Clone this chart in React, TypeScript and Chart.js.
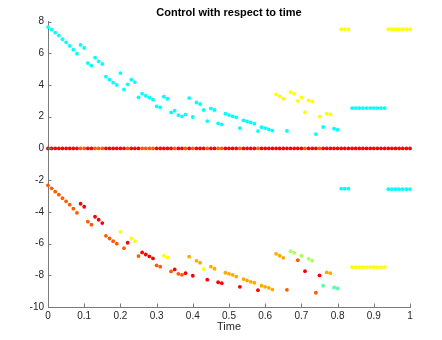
import React, { useEffect, useRef } from "react";
import { Chart, registerables } from "chart.js";

Chart.register(...registerables);

const titleText = "Control with respect to time";
const xLabel = "Time";

const time = [
  0, 0.01, 0.02, 0.03, 0.04, 0.05, 0.06, 0.07, 0.08, 0.09,
  0.1, 0.11, 0.12, 0.13, 0.14, 0.15, 0.16, 0.17, 0.18, 0.19,
  0.2, 0.21, 0.22, 0.23, 0.24, 0.25, 0.26, 0.27, 0.28, 0.29,
  0.3, 0.31, 0.32, 0.33, 0.34, 0.35, 0.36, 0.37, 0.38, 0.39,
  0.4, 0.41, 0.42, 0.43, 0.44, 0.45, 0.46, 0.47, 0.48, 0.49,
  0.5, 0.51, 0.52, 0.53, 0.54, 0.55, 0.56, 0.57, 0.58, 0.59,
  0.6, 0.61, 0.62, 0.63, 0.64, 0.65, 0.66, 0.67, 0.68, 0.69,
  0.7, 0.71, 0.72, 0.73, 0.74, 0.75, 0.76, 0.77, 0.78, 0.79,
  0.8, 0.81, 0.82, 0.83, 0.84, 0.85, 0.86, 0.87, 0.88, 0.89,
  0.9, 0.91, 0.92, 0.93, 0.94, 0.95, 0.96, 0.97, 0.98, 0.99, 1,
];

// control 1 (upper)
const upperValues = [
  7.65, 7.49, 7.3, 7.11, 6.88, 6.69, 6.46, 6.23, 5.97, 6.52,
  6.33, 5.38, 5.22, 5.72, 5.49, 5.32, 4.52, 4.33, 4.14, 4.0,
  4.75, 3.72, 4.04, 4.33, 4.18, 3.22, 3.45, 3.32, 3.2, 3.07,
  2.65, 2.59, 3.26, 3.13, 2.27, 2.38, 2.1, 2.02, 2.13, 3.17,
  1.98, 2.9, 2.8, 2.42, 1.72, 2.52, 2.42, 1.58, 1.51, 2.19,
  2.1, 2.02, 1.96, 1.28, 1.77, 1.7, 1.64, 1.56, 1.09, 1.34,
  1.28, 1.2, 1.12, 3.41, 3.28, 3.13, 1.1, 3.55, 3.45, 2.99,
  3.22, 2.27, 3.03, 2.97, 0.9, 2.0, 1.35, 2.19, 2.15, 1.24,
  1.18, 7.51, 7.51, 7.51, 2.54, 2.54, 2.54, 2.54, 2.54, 2.54,
  2.54, 2.54, 2.54, 2.54, 7.51, 7.51, 7.51, 7.51, 7.51, 7.51, 7.51,
];
// colour level per point: 0 red, 1 orange-red, 2 orange, 3 yellow, 4 light green, 5 aquamarine, 6 cyan
const upperLevels = [
  6, 6, 6, 6, 6, 6, 6, 6, 6, 6,
  6, 6, 6, 6, 6, 6, 6, 6, 6, 6,
  6, 6, 6, 6, 6, 6, 6, 6, 6, 6,
  6, 6, 6, 6, 6, 6, 6, 6, 6, 6,
  6, 6, 6, 6, 6, 6, 6, 6, 6, 6,
  6, 6, 6, 6, 6, 6, 6, 6, 6, 6,
  6, 6, 6, 3, 3, 3, 6, 3, 3, 3,
  3, 3, 3, 3, 6, 3, 6, 3, 3, 6,
  6, 3, 3, 3, 6, 6, 6, 6, 6, 6,
  6, 6, 6, 6, 3, 3, 3, 3, 3, 3, 3,
];

// control 2 (middle)
const middleValues = [
  0, 0, 0, 0, 0, 0, 0, 0, 0, 0,
  0, 0, 0, 0, 0, 0, 0, 0, 0, 0,
  0, 0, 0, 0, 0, 0, 0, 0, 0, 0,
  0, 0, 0, 0, 0, 0, 0, 0, 0, 0,
  0, 0, 0, 0, 0, 0, 0, 0, 0, 0,
  0, 0, 0, 0, 0, 0, 0, 0, 0, 0,
  0, 0, 0, 0, 0, 0, 0, 0, 0, 0,
  0, 0, 0, 0, 0, 0, 0, 0, 0, 0,
  0, 0, 0, 0, 0, 0, 0, 0, 0, 0,
  0, 0, 0, 0, 0, 0, 0, 0, 0, 0, 0,
];
const middleLevels = [
  0, 0, 0, 0, 0, 0, 0, 0, 0, 1,
  1, 0, 0, 1, 1, 1, 0, 0, 0, 0,
  0, 0, 1, 0, 0, 0, 1, 1, 1, 1,
  0, 0, 0, 0, 0, 1, 0, 0, 1, 0,
  1, 0, 0, 0, 1, 0, 0, 1, 1, 0,
  0, 0, 0, 1, 0, 0, 0, 0, 1, 0,
  0, 0, 0, 0, 0, 0, 0, 0, 0, 0,
  0, 1, 0, 0, 0, 1, 0, 0, 0, 0,
  0, 0, 0, 0, 0, 0, 0, 0, 0, 0,
  0, 0, 0, 0, 0, 0, 0, 0, 0, 0, 0,
];

// control 3 (lower)
const lowerValues = [
  -2.33, -2.52, -2.73, -2.92, -3.14, -3.34, -3.55, -3.8, -4.06, -3.49,
  -3.68, -4.62, -4.81, -4.31, -4.5, -4.71, -5.51, -5.68, -5.85, -6.01,
  -5.26, -6.29, -5.95, -5.68, -5.85, -6.79, -6.56, -6.69, -6.81, -6.94,
  -7.38, -7.46, -6.77, -6.88, -7.76, -7.63, -7.91, -7.97, -7.87, -6.83,
  -8.03, -7.09, -7.21, -7.61, -8.28, -7.46, -7.59, -8.44, -8.5, -7.84,
  -7.91, -7.97, -8.08, -8.73, -8.24, -8.33, -8.41, -8.47, -8.94, -8.66,
  -8.73, -8.79, -8.9, -6.65, -6.77, -6.9, -8.92, -6.48, -6.58, -7.05,
  -6.77, -7.74, -6.96, -7.07, -9.1, -8.01, -8.66, -7.82, -7.87, -8.77,
  -8.83, -2.54, -2.54, -2.54, -7.49, -7.49, -7.49, -7.49, -7.49, -7.49,
  -7.49, -7.49, -7.49, -7.49, -2.57, -2.57, -2.57, -2.57, -2.57, -2.57, -2.57,
];
const lowerLevels = [
  1, 1, 1, 1, 1, 1, 1, 1, 1, 0,
  0, 1, 1, 0, 0, 0, 1, 1, 1, 1,
  3, 1, 0, 3, 3, 1, 0, 0, 0, 0,
  1, 1, 3, 3, 1, 0, 1, 1, 0, 2,
  0, 2, 2, 3, 0, 2, 2, 0, 0, 2,
  2, 2, 2, 0, 2, 2, 2, 2, 0, 2,
  2, 2, 2, 2, 2, 2, 1, 4, 4, 1,
  4, 0, 4, 4, 1, 0, 5, 2, 2, 5,
  5, 6, 6, 6, 3, 3, 3, 3, 3, 3,
  3, 3, 3, 3, 6, 6, 6, 6, 6, 6, 6,
];

const xTicks = [0, 0.1, 0.2, 0.3, 0.4, 0.5, 0.6, 0.7, 0.8, 0.9, 1];
const yTicks = [-10, -8, -6, -4, -2, 0, 2, 4, 6, 8];

const palette = ["#ff0000", "#ff5a00", "#ffaa00", "#ffff00", "#aaff55", "#55ffaa", "#00ffff"];

const FONT = "'Liberation Sans', Arial, Helvetica, sans-serif";
const AXIS = "#262626";

const innerTicks = {
  id: "innerTicks",
  afterDraw(chart: any) {
    const { ctx, chartArea, scales } = chart;
    ctx.save();
    ctx.strokeStyle = "#7a7a7a";
    ctx.lineWidth = 1;
    ctx.beginPath();
    for (const v of xTicks) {
      const x = Math.round(scales.x.getPixelForValue(v)) + 0.5;
      ctx.moveTo(x, chartArea.bottom);
      ctx.lineTo(x, chartArea.bottom - 3.5);
    }
    for (const v of yTicks) {
      const y = Math.round(scales.y.getPixelForValue(v)) + 0.5;
      ctx.moveTo(chartArea.left, y);
      ctx.lineTo(chartArea.left + 3.5, y);
    }
    ctx.stroke();
    ctx.fillStyle = "#000";
    ctx.font = `bold 11px ${FONT}`;
    ctx.textAlign = "center";
    ctx.textBaseline = "middle";
    ctx.fillText(titleText, (chartArea.left + chartArea.right) / 2, 12.5);
    ctx.restore();
  },
};

function makeDataset(values: number[], levels: number[]) {
  return {
    data: values.map((v, i) => ({ x: time[i], y: v })),
    pointBackgroundColor: levels.map((l) => palette[l]),
    pointBorderWidth: 0,
    pointRadius: 1.9,
    pointStyle: "circle",
    showLine: false,
    clip: false,
  };
}

export default function App() {
  const ref = useRef<HTMLCanvasElement>(null);
  useEffect(() => {
    document.body.style.margin = "0";
    const chart = new Chart(ref.current as HTMLCanvasElement, {
      type: "scatter",
      data: {
        datasets: [
          makeDataset(upperValues, upperLevels),
          makeDataset(middleValues, middleLevels),
          makeDataset(lowerValues, lowerLevels),
        ] as any,
      },
      options: {
        animation: false,
        responsive: false,
        devicePixelRatio: 1,
        layout: { padding: { left: 0, right: 32, top: 21.5, bottom: 0 } },
        plugins: { legend: { display: false }, tooltip: { enabled: false }, title: { display: false } },
        scales: {
          x: {
            type: "linear",
            min: 0,
            max: 1,
            afterFit: (s: any) => { s.height = 33; },
            afterBuildTicks: (s: any) => { s.ticks = xTicks.map((v) => ({ value: v })); },
            grid: { display: false, drawTicks: false, tickLength: 0 },
            border: { display: true, color: "#7a7a7a", width: 1 },
            ticks: {
              padding: 3,
              maxRotation: 0,
              autoSkip: false,
              color: AXIS,
              font: { family: FONT, size: 10 },
              callback: (v: any) => String(Math.round(Number(v) * 10) / 10),
            },
            title: {
              display: true,
              text: xLabel,
              color: AXIS,
              font: { family: FONT, size: 11 },
              padding: { top: 0, bottom: 6 },
            },
          },
          y: {
            type: "linear",
            min: -10,
            max: 8,
            afterFit: (s: any) => { s.width = 48; },
            afterBuildTicks: (s: any) => { s.ticks = yTicks.map((v) => ({ value: v })); },
            grid: { display: false, drawTicks: false, tickLength: 0 },
            border: { display: true, color: "#7a7a7a", width: 1 },
            ticks: {
              padding: 4,
              autoSkip: false,
              color: AXIS,
              font: { family: FONT, size: 10 },
              callback: (v: any) => String(v),
            },
          },
        },
      },
      plugins: [innerTicks],
    });
    return () => chart.destroy();
  }, []);
  return (
    <div style={{ width: 442, height: 340, background: "#fff" }}>
      <canvas ref={ref} width={442} height={340} style={{ display: "block" }} />
    </div>
  );
}
